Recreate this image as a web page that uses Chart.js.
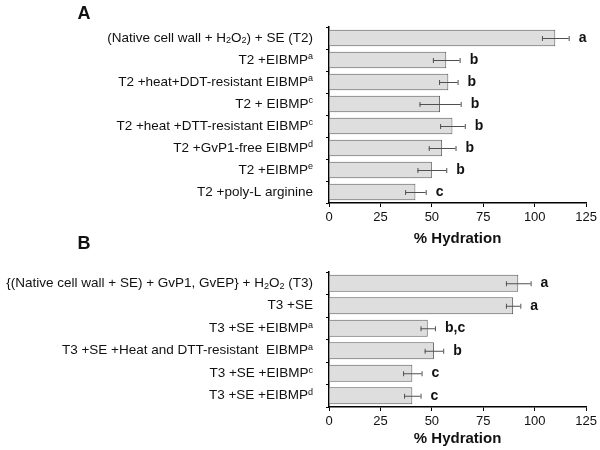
<!DOCTYPE html>
<html>
<head>
<meta charset="utf-8">
<script src="https://cdn.jsdelivr.net/npm/chart.js@4"></script>
<style>
  body { margin: 0; background: #fff; }
  #wrap { position: relative; width: 600px; height: 450px; }
  canvas { position: absolute; left: 0; }
</style>
</head>
<body>
<div id="wrap">
  <canvas id="chartA" width="600" height="250" style="top:0"></canvas>
  <canvas id="chartB" width="600" height="225" style="top:225px"></canvas>
</div>
<script>
// panel A
var labelsA = [
  '(Native cell wall + H_{2}O_{2}) + SE (T2)',
  'T2 +EIBMP^{a}',
  'T2 +heat+DDT-resistant EIBMP^{a}',
  'T2 + EIBMP^{c}',
  'T2 +heat +DTT-resistant EIBMP^{c}',
  'T2 +GvP1-free EIBMP^{d}',
  'T2 +EIBMP^{e}',
  'T2 +poly-L arginine'
];
var valuesA = [110, 57, 58, 54, 60, 55, 50, 42];
var errorsA = [6.5, 6.5, 4.5, 10, 6, 6.5, 7, 5];
var lettersA = ['a', 'b', 'b', 'b', 'b', 'b', 'b', 'c'];

// panel B
var labelsB = [
  '{(Native cell wall + SE) + GvP1, GvEP} + H_{2}O_{2} (T3)',
  'T3 +SE',
  'T3 +SE +EIBMP^{a}',
  'T3 +SE +Heat and DTT-resistant  EIBMP^{a}',
  'T3 +SE +EIBMP^{c}',
  'T3 +SE +EIBMP^{d}'
];
var valuesB = [92, 89.5, 48, 51, 40.5, 40.5];
var errorsB = [6, 3.5, 3.5, 4.5, 4.5, 4];
var lettersB = ['a', 'a', 'b,c', 'b', 'c', 'c'];

var xTicks = [0, 25, 50, 75, 100, 125];

var FONT = 'Arial, "Liberation Sans", sans-serif';

// split 'H_{2}' / '^{a}' markup into pieces
function parseLabel(str) {
  var parts = str.split(/(_\{[^}]*\}|\^\{[^}]*\})/);
  var out = [];
  parts.forEach(function (p) {
    if (!p) return;
    if (p[0] === '_') out.push({ t: p.slice(2, -1), k: 'sub' });
    else if (p[0] === '^') out.push({ t: p.slice(2, -1), k: 'sup' });
    else out.push({ t: p, k: 'n' });
  });
  return out;
}

function segFont(k) {
  return (k === 'n' ? '13.5px ' : '9px ') + FONT;
}

var panelPlugin = {
  id: 'panel',
  afterDatasetsDraw: function (chart, args, o) {
    var ctx = chart.ctx;
    var xs = chart.scales.x, ys = chart.scales.y;
    ctx.save();

    // error bars + letters
    o.values.forEach(function (v, i) {
      var y = ys.getPixelForValue(i);
      var lo = xs.getPixelForValue(v - o.errors[i]);
      var hi = xs.getPixelForValue(v + o.errors[i]);
      ctx.strokeStyle = '#505050';
      ctx.lineWidth = 1;
      ctx.beginPath();
      ctx.moveTo(lo, y + 0.5); ctx.lineTo(hi, y + 0.5);
      ctx.moveTo(lo + 0.5, y - 2); ctx.lineTo(lo + 0.5, y + 3);
      ctx.moveTo(hi + 0.5, y - 2); ctx.lineTo(hi + 0.5, y + 3);
      ctx.stroke();

      ctx.fillStyle = '#111';
      ctx.font = 'bold 14px ' + FONT;
      ctx.textAlign = 'left';
      ctx.textBaseline = 'middle';
      ctx.fillText(o.letters[i], hi + 10, y);
    });

    // category labels with sub/superscripts
    ctx.textBaseline = 'middle';
    ctx.textAlign = 'left';
    o.labels.forEach(function (lab, i) {
      var y = ys.getPixelForValue(i);
      var segs = parseLabel(lab);
      var w = 0;
      segs.forEach(function (s) { ctx.font = segFont(s.k); s.w = ctx.measureText(s.t).width; w += s.w; });
      var x = o.labelRight - w;
      segs.forEach(function (s) {
        ctx.font = segFont(s.k);
        ctx.fillStyle = '#111';
        var dy = s.k === 'sub' ? 3 : (s.k === 'sup' ? -3 : 0);
        ctx.fillText(s.t, x, y + dy);
        x += s.w;
      });
    });

    // panel letter
    ctx.font = 'bold 18px ' + FONT;
    ctx.textAlign = 'center';
    ctx.fillStyle = '#111';
    ctx.fillText(o.panel, o.panelX, o.panelY);
    ctx.restore();
  }
};

function makeChart(id, labels, values, errors, letters, cfg) {
  var ctx = document.getElementById(id).getContext('2d');
  return new Chart(ctx, {
    type: 'bar',
    data: {
      labels: labels,
      datasets: [{
        data: values,
        backgroundColor: '#dedede',
        borderColor: '#5a5a5a',
        borderWidth: 1,
        categoryPercentage: 1,
        barPercentage: 0.76
      }]
    },
    plugins: [panelPlugin],
    options: {
      indexAxis: 'y',
      responsive: false,
      animation: false,
      layout: { padding: { top: cfg.top, right: 12, left: 0, bottom: 0 } },
      plugins: {
        legend: { display: false },
        tooltip: { enabled: false },
        panel: {
          values: values, errors: errors, letters: letters, labels: labels,
          labelRight: 313, panel: cfg.panel, panelX: 84, panelY: cfg.panelY
        }
      },
      scales: {
        x: {
          min: 0, max: 125,
          afterBuildTicks: function (s) { s.ticks = xTicks.map(function (v) { return { value: v }; }); },
          afterFit: function (s) { s.height = cfg.xHeight; },
          grid: { drawOnChartArea: false, tickLength: 4, color: '#000' },
          border: { color: '#000', width: 1.5 },
          ticks: { color: '#111', padding: 3, font: { family: FONT, size: 13 } },
          title: {
            display: true, text: '% Hydration', color: '#111',
            font: { family: FONT, size: 15, weight: 'bold' },
            padding: { top: 4, bottom: 2 }
          }
        },
        y: {
          afterFit: function (s) { s.width = 329; },
          grid: { drawOnChartArea: false, tickLength: 3, color: '#000' },
          border: { color: '#000', width: 1.5 },
          ticks: { display: false }
        }
      }
    }
  });
}

makeChart('chartA', labelsA, valuesA, errorsA, lettersA, { top: 27, xHeight: 47, panel: 'A', panelY: 14 });
makeChart('chartB', labelsB, valuesB, errorsB, lettersB, { top: 47, xHeight: 43, panel: 'B', panelY: 19 });
</script>
</body>
</html>
